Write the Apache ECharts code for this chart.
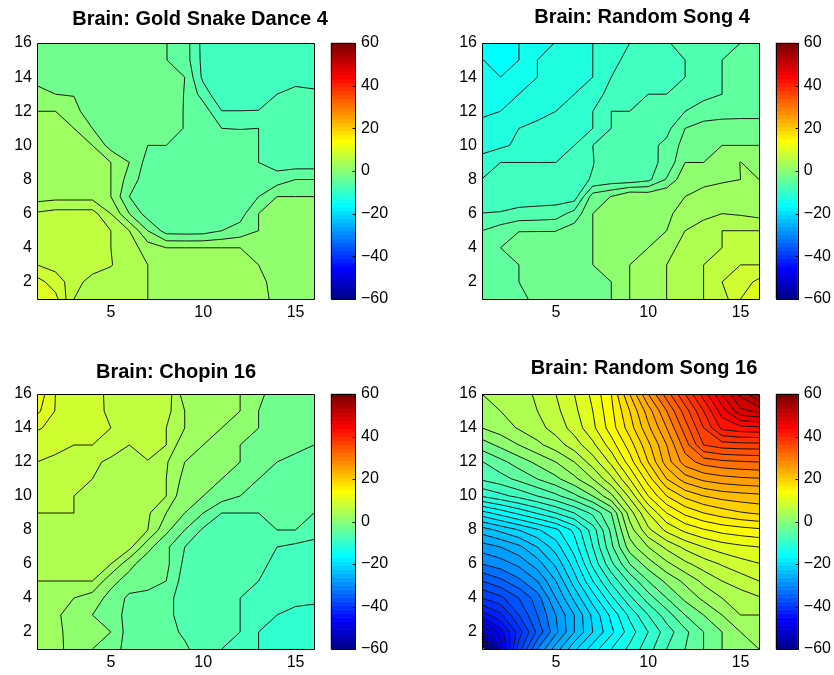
<!DOCTYPE html>
<html>
<head>
<meta charset="utf-8">
<title>Brain contour maps</title>
<script src="https://cdn.jsdelivr.net/npm/echarts/dist/echarts.min.js"></script>
<style>
  html, body { margin: 0; padding: 0; background: #fff; }
  #chart { width: 834px; height: 675px; }
</style>
</head>
<body>
<div id="chart"></div>
<script>
// grid nodes (electrode grid 16 x 16)
const gridX = [1, 2, 3, 4, 5, 6, 7, 8, 9, 10, 11, 12, 13, 14, 15, 16]
const gridY = [1, 2, 3, 4, 5, 6, 7, 8, 9, 10, 11, 12, 13, 14, 15, 16]

const titles = ['Brain: Gold Snake Dance 4', 'Brain: Random Song 4', 'Brain: Chopin 16', 'Brain: Random Song 16']

// colour axis and contour levels
const cMin = -60
const cMax = 60
const levelStep = 2
const barTicks = [-60, -40, -20, 0, 20, 40, 60]

// values, one row per y (y = 1 first), x = 1..16 in each row
const goldSnake = [
  [11.5, 10.65, 6.0, 5.2, 5.3, 4.8, 4.0, 3.4, 3.1, 3.0, 3.0, 2.9, 2.4, 1.7, 1.4, 1.3],
  [10.8, 9.0, 7.0, 5.0, 5.2, 4.8, 4.0, 3.3, 3.1, 3.0, 3.0, 2.8, 2.3, 1.6, 1.3, 1.3],
  [8.0, 7.3, 7.6, 7.2, 6.1, 5.0, 4.0, 3.2, 3.0, 3.0, 3.0, 2.8, 2.0, 1.5, 1.3, 1.3],
  [7.3, 7.5, 7.4, 7.0, 6.0, 5.0, 3.0, 2.0, 2.0, 2.0, 2.0, 2.0, 1.5, 1.2, 1.2, 1.2],
  [7.0, 7.2, 7.2, 6.9, 6.0, 4.0, 0.0, -2.86, -3.0, -2.9, -2.0, -1.2, 0.0, 1.0, 1.0, 1.0],
  [6.3, 6.8, 6.8, 6.8, 4.0, 0.0, -3.0, -3.5, -3.6, -3.6, -3.4, -2.8, 0.0, 1.0, 1.0, 1.0],
  [3.0, 3.3, 3.3, 3.3, 2.0, -2.0, -3.0, -3.5, -3.7, -3.8, -3.6, -3.0, -2.0, 0.0, 0.0, 0.0],
  [3.5, 3.4, 3.2, 2.8, 2.0, -0.86, -3.24, -3.4, -3.6, -3.7, -3.6, -3.4, -3.2, -3.0, -2.0, -2.0],
  [3.4, 3.2, 3.0, 2.6, 2.0, 0.0, -2.8, -3.0, -3.2, -3.4, -3.5, -3.6, -4.0, -5.0, -5.2, -5.2],
  [3.2, 3.0, 2.6, 2.0, -0.86, -1.5, -2.0, -2.0, -2.6, -3.0, -3.2, -3.3, -4.0, -4.5, -4.6, -4.6],
  [3.0, 2.5, 2.0, 0.0, -0.8, -1.2, -1.5, -1.8, -2.02, -3.0, -4.0, -4.05, -4.0, -4.6, -4.8, -4.8],
  [2.0, 2.0, 0.7, -1.3, -1.5, -1.6, -1.7, -1.8, -2.02, -2.9, -5.95, -5.95, -5.95, -5.3, -5.0, -5.0],
  [0.5, 0.0, -0.1, -0.8, -1.0, -1.2, -1.4, -1.7, -2.02, -4.86, -7.78, -7.5, -6.8, -6.0, -5.5, -5.6],
  [-0.5, -0.7, -0.9, -1.0, -1.1, -1.3, -1.5, -1.8, -2.0, -6.5, -7.2, -7.4, -7.4, -7.2, -6.6, -6.9],
  [-0.6, -0.8, -1.0, -1.1, -1.2, -1.3, -1.5, -1.96, -3.0, -6.6, -7.2, -7.4, -7.5, -7.5, -7.4, -7.3],
  [-0.6, -0.8, -1.0, -1.1, -1.2, -1.3, -1.5, -1.96, -3.0, -6.7, -7.2, -7.4, -7.5, -7.5, -7.4, -7.3]
]

const randomSong4 = [
  [-3.3, -3.0, -2.5, -1.5, -1.0, -0.7, -0.4, 0.0, 2.0, 3.0, 4.0, 5.0, 6.0, 7.0, 10.0, 11.5],
  [-3.3, -2.9, -2.0, -1.4, -1.0, -0.6, -0.3, 0.0, 2.0, 3.0, 4.0, 5.0, 6.0, 8.0, 9.0, 10.5],
  [-3.2, -2.8, -2.0, -1.3, -0.9, -0.5, 0.0, 1.0, 2.0, 3.0, 4.0, 5.0, 6.0, 7.0, 8.0, 8.0],
  [-3.0, -2.0, -1.2, -1.0, -0.8, -0.4, 0.0, 0.7, 1.3, 2.0, 3.2, 4.8, 5.4, 6.0, 7.0, 7.2],
  [-4.0, -3.0, -2.05, -2.05, -2.05, -1.0, 0.0, 0.6, 1.0, 1.5, 2.0, 4.0, 5.0, 6.0, 6.0, 6.0],
  [-5.95, -5.84, -5.35, -5.21, -4.96, -3.25, 0.0, 0.5, 1.0, 1.4, 1.7, 2.6, 3.4, 4.0, 3.78, 3.33],
  [-7.3, -7.2, -7.1, -7.0, -7.0, -7.0, -1.0, 0.05, 1.9, 1.5, 1.9, 2.0, 2.5, 2.8, 3.0, 3.0],
  [-7.95, -7.6, -7.4, -7.2, -6.8, -6.4, -5.9, -5.3, -5.3, -4.5, -1.8, 1.5, 1.6, 1.8, 2.0, 2.0],
  [-9.2, -8.0, -8.0, -8.0, -8.0, -7.0, -6.05, -5.3, -4.8, -4.5, -3.56, 0.0, 0.0, 0.8, 2.05, 1.0],
  [-10.8, -10.4, -9.6, -9.0, -8.5, -8.0, -6.0, -5.5, -5.0, -4.6, -3.5, -1.2, -0.5, 0.0, 0.0, 0.0],
  [-11.5, -10.8, -10.0, -9.5, -9.0, -8.5, -8.0, -6.0, -5.5, -5.0, -4.6, -2.0, -1.5, -1.3, -1.2, -1.2],
  [-12.3, -12.0, -11.2, -10.6, -10.0, -9.0, -8.0, -6.0, -6.0, -5.4, -4.8, -4.0, -2.7, -2.6, -2.6, -2.6],
  [-13.0, -12.6, -12.0, -11.3, -10.7, -10.0, -8.8, -7.4, -6.8, -6.0, -6.0, -5.4, -4.8, -4.0, -3.4, -3.0],
  [-13.5, -14.0, -13.0, -12.0, -11.3, -10.6, -10.0, -8.0, -7.2, -6.8, -6.4, -6.0, -5.0, -4.0, -3.5, -3.2],
  [-13.9, -15.0, -14.0, -12.0, -11.3, -10.6, -10.0, -8.7, -7.3, -6.9, -6.5, -6.0, -5.0, -4.0, -3.6, -3.3],
  [-15.5, -15.0, -14.0, -12.5, -11.95, -11.0, -10.0, -9.0, -8.0, -7.0, -6.1, -5.6, -5.0, -4.5, -4.0, -3.5]
]

const chopin16 = [
  [3.4, 2.4, 1.5, 0.0, -1.3, -2.6, -3.0, -3.4, -3.8, -4.6, -6.0, -7.0, -8.0, -8.8, -9.2, -9.4],
  [3.2, 2.4, 1.4, 0.8, 0.0, -3.0, -3.3, -3.6, -4.2, -4.8, -5.4, -6.0, -8.0, -8.6, -9.0, -9.2],
  [3.2, 2.4, 1.0, 0.0, -1.3, -2.5, -2.8, -3.4, -4.9, -5.2, -5.6, -6.0, -7.0, -8.0, -8.6, -8.7],
  [3.6, 3.0, 2.0, 1.0, -0.67, -2.44, -2.5, -3.0, -5.5, -5.6, -5.8, -6.0, -6.5, -7.0, -7.4, -7.6],
  [4.0, 4.0, 4.0, 4.0, 0.6, -0.8, -1.4, -2.0, -5.0, -5.2, -5.4, -5.7, -6.0, -6.6, -7.0, -7.3],
  [5.0, 4.8, 4.6, 4.3, 4.0, 0.6, -1.2, -1.5, -4.5, -4.8, -5.0, -5.2, -5.6, -6.4, -7.0, -7.2],
  [5.4, 5.3, 5.2, 5.0, 4.8, 4.6, 0.6, -1.6, -4.0, -4.5, -4.8, -5.0, -5.5, -6.0, -6.5, -6.8],
  [5.8, 5.6, 5.4, 5.2, 5.0, 4.8, 4.0, 0.5, -2.0, -4.3, -4.5, -4.6, -4.4, -4.0, -4.0, -5.0],
  [6.0, 6.0, 6.0, 5.3, 4.9, 4.6, 4.3, 2.0, 0.0, -2.0, -4.0, -4.0, -4.0, -3.4, -3.4, -4.0],
  [7.2, 6.8, 6.0, 5.6, 5.2, 4.9, 4.6, 4.0, 0.36, 0.0, -1.0, -2.0, -2.6, -3.0, -3.3, -3.5],
  [7.6, 7.2, 6.8, 6.0, 5.5, 5.2, 4.8, 4.0, 1.33, 0.7, 0.0, -1.0, -2.0, -2.6, -3.0, -3.2],
  [8.0, 7.6, 7.2, 6.4, 5.6, 5.4, 5.95, 4.2, 2.0, 1.3, 0.7, 0.0, -1.0, -2.0, -2.4, -2.6],
  [9.0, 8.5, 8.0, 8.0, 7.0, 6.0, 6.4, 6.0, 2.36, 2.0, 1.0, 0.0, -0.5, -1.0, -1.6, -2.0],
  [10.2, 9.5, 9.0, 8.6, 8.0, 7.4, 6.8, 6.0, 4.0, 3.0, 2.0, 1.0, 0.0, -0.6, -0.9, -1.2],
  [12.5, 9.9, 9.3, 8.7, 7.6, 7.3, 7.0, 6.7, 4.0, 3.2, 2.6, 2.0, 0.0, -0.7, -1.0, -1.3],
  [13.5, 10.0, 9.2, 8.6, 7.6, 7.2, 6.8, 7.3, 2.9, 2.6, 2.3, 2.0, 0.4, -0.8, -1.2, -1.5]
]

const randomSong16 = [
  [-62, -47, -37, -30, -25, -20.5, -17, -14, -11.5, -8.8, -6, -4, -2, 0, 1, 2],
  [-51, -45, -39, -33.5, -28.5, -24, -20, -16.5, -13, -10, -7, -4.5, -2, 0, 2, 3],
  [-43, -40.5, -36, -32, -28, -24, -19.5, -15.5, -11.5, -8, -5, -2, 0, 2, 4, 4],
  [-38, -36.5, -34, -31, -26, -21.5, -17, -12.5, -8.5, -5, -2, 0.5, 2.5, 4, 5, 5.8],
  [-34, -32.5, -30.5, -28, -24, -19, -14, -9.5, -5.5, -2, 0.5, 2.5, 4.5, 6, 7, 8],
  [-30, -29, -27.5, -25, -21.5, -17, -11.5, -6.5, -2, 1, 3.5, 5.5, 7, 8.2, 9.2, 9.9],
  [-27, -26, -24.5, -22, -19, -15, -10, -4.5, 1, 4, 6.5, 8.5, 10, 11, 11.6, 12],
  [-23, -21.5, -20, -18.3, -16.5, -13.5, -9, -3.5, 3, 7.5, 10.5, 12.5, 13.8, 14.7, 15.2, 15.6],
  [-16.8, -15.2, -13.5, -11.8, -10, -8, -5.5, -2, 5, 10, 14, 16.5, 18, 19, 19.8, 20.3],
  [-9.8, -8.6, -7.4, -6, -4.5, -2.5, 0, 3.5, 8.5, 14, 18, 20.5, 22, 22.8, 23.2, 23.5],
  [-5.7, -4.8, -3.5, -2, -0.5, 1.5, 4, 7.5, 12, 17, 22, 25, 26.5, 27.2, 27.6, 27.8],
  [-4.1, -2.6, -1, 0.5, 2, 4, 7, 10.5, 15, 20, 25, 29, 30.8, 31.5, 31.8, 32],
  [-1, 0.5, 2, 3.5, 5, 7, 9.5, 13, 17, 21.5, 26, 31, 36, 37, 37.2, 37.3],
  [2, 3, 4.2, 5.3, 6.8, 8.8, 11.5, 15, 19, 23.5, 28, 33, 38, 42.5, 43.3, 43.5],
  [3, 4, 5, 6, 7.5, 9.5, 12, 15.5, 20, 25, 30, 35, 40, 45, 49.5, 50.5],
  [4, 4.8, 5.5, 6.2, 8, 10, 12.5, 16, 22, 28, 33, 38, 43, 48, 52.5, 56.5]
]

const panelData = [goldSnake, randomSong4, chopin16, randomSong16]

// layout of the four panels (plot box in px)
const panels = [
  {left: 37, top: 43, height: 256, titleX: 200, titleY: 19},
  {left: 482, top: 43, height: 256, titleX: 642, titleY: 17},
  {left: 37, top: 394, height: 255, titleX: 176, titleY: 372},
  {left: 482, top: 394, height: 255, titleX: 644, titleY: 368}
]
const plotWidth = 277
const barOffset = 294
const barWidth = 24
const fontFamily = 'Liberation Sans, Arial, Helvetica, sans-serif'

const levels = []
for (let v = cMin; v <= cMax; v += levelStep) levels.push(v)

// matlab jet(64)
function jetColor (row) {
  let r = 0, g = 0, b = 0
  if (row <= 8) {
    b = 0.5 + row * 0.0625
  } else if (row <= 24) {
    g = (row - 8) * 0.0625; b = 1
  } else if (row <= 40) {
    r = (row - 24) * 0.0625; g = 1; b = 1 - (row - 24) * 0.0625
  } else if (row <= 56) {
    r = 1; g = 1 - (row - 40) * 0.0625
  } else {
    r = 1 - (row - 56) * 0.0625
  }
  return 'rgb(' + Math.round(r * 255) + ',' + Math.round(g * 255) + ',' + Math.round(b * 255) + ')'
}
function valueRow (v) {
  return Math.min(64, Math.max(1, Math.floor((v - cMin) / (cMax - cMin) * 64) + 1))
}

// cut polygon [x, y, v] to v >= lev (keepAbove) or v <= lev
function clipPoly (poly, lev, keepAbove) {
  const out = []
  const n = poly.length
  for (let i = 0; i < n; i++) {
    const cur = poly[i]
    const prev = poly[(i + n - 1) % n]
    const curIn = keepAbove ? cur[2] >= lev : cur[2] <= lev
    const prevIn = keepAbove ? prev[2] >= lev : prev[2] <= lev
    if (curIn) {
      if (!prevIn) out.push(crossPoint(prev, cur, lev))
      out.push(cur)
    } else if (prevIn) {
      out.push(crossPoint(prev, cur, lev))
    }
  }
  return out
}
function crossPoint (a, b, lev) {
  const t = (lev - a[2]) / (b[2] - a[2])
  return [a[0] + t * (b[0] - a[0]), a[1] + t * (b[1] - a[1]), lev]
}
function pt (p) {
  return p[0].toFixed(2) + ' ' + p[1].toFixed(2)
}

function contourRender (Z) {
  return function (params, api) {
    const P = []
    for (let j = 0; j < gridY.length; j++) {
      const row = []
      for (let i = 0; i < gridX.length; i++) {
        const c = api.coord([gridX[i], gridY[j]])
        row.push([c[0], c[1], Z[j][i]])
      }
      P.push(row)
    }
    const fills = {}
    let lines = ''
    for (let j = 0; j < gridY.length - 1; j++) {
      for (let i = 0; i < gridX.length - 1; i++) {
        const q = [P[j][i], P[j][i + 1], P[j + 1][i + 1], P[j + 1][i]]
        const vs = q.map(p => p[2])
        const lo = Math.min.apply(null, vs)
        const hi = Math.max.apply(null, vs)
        // filled bands
        for (let k = 0; k < levels.length - 1; k++) {
          if (levels[k + 1] < lo || levels[k] > hi) continue
          const poly = clipPoly(clipPoly(q, levels[k], true), levels[k + 1], false)
          if (poly.length < 3) continue
          fills[k] = (fills[k] || '') + 'M' + poly.map(pt).join('L') + 'Z'
        }
        // contour lines
        for (const lev of levels) {
          if (lev < lo || lev > hi) continue
          const cs = []
          for (let e = 0; e < 4; e++) {
            const a = q[e], b = q[(e + 1) % 4]
            if ((a[2] >= lev) !== (b[2] >= lev)) cs.push(crossPoint(a, b, lev))
          }
          if (cs.length === 2) {
            lines += 'M' + pt(cs[0]) + 'L' + pt(cs[1])
          } else if (cs.length === 4) {
            if (q[0][2] >= lev) {
              lines += 'M' + pt(cs[0]) + 'L' + pt(cs[1]) + 'M' + pt(cs[2]) + 'L' + pt(cs[3])
            } else {
              lines += 'M' + pt(cs[3]) + 'L' + pt(cs[0]) + 'M' + pt(cs[1]) + 'L' + pt(cs[2])
            }
          }
        }
      }
    }
    const children = []
    Object.keys(fills).forEach(k => {
      children.push({
        type: 'path',
        shape: {pathData: fills[k]},
        style: {fill: jetColor(valueRow(levels[k])), stroke: 'none'}
      })
    })
    children.push({
      type: 'path',
      shape: {pathData: lines},
      style: {fill: 'none', stroke: '#000', lineWidth: 0.9}
    })
    const p0 = P[0][0]
    const p1 = P[gridY.length - 1][gridX.length - 1]
    children.push({
      type: 'rect',
      shape: {x: Math.round(p0[0]) + 0.5, y: Math.round(p1[1]) + 0.5, width: Math.round(p1[0] - p0[0]), height: Math.round(p0[1] - p1[1])},
      style: {fill: 'none', stroke: '#000', lineWidth: 1}
    })
    return {type: 'group', children: children}
  }
}

// colour bar: 64 steps of jet, ticks inside on the right edge
function barRender (params, api) {
  const children = []
  const step = (cMax - cMin) / 64
  for (let r = 1; r <= 64; r++) {
    const a = api.coord([0, cMin + (r - 1) * step])
    const b = api.coord([1, cMin + r * step])
    children.push({
      type: 'rect',
      shape: {x: a[0], y: b[1], width: b[0] - a[0], height: a[1] - b[1]},
      style: {fill: jetColor(r), stroke: jetColor(r), lineWidth: 0.5}
    })
  }
  const lo = api.coord([0, cMin])
  const hi = api.coord([1, cMax])
  const right = Math.round(hi[0]) + 0.5
  barTicks.forEach(v => {
    const y = Math.round(api.coord([1, v])[1]) + 0.5
    children.push({
      type: 'line',
      shape: {x1: right - 3, y1: y, x2: right, y2: y},
      style: {stroke: '#000', lineWidth: 1}
    })
  })
  children.push({
    type: 'rect',
    shape: {x: Math.round(lo[0]) + 0.5, y: Math.round(hi[1]) + 0.5, width: Math.round(hi[0] - lo[0]), height: Math.round(lo[1] - hi[1])},
    style: {fill: 'none', stroke: '#000', lineWidth: 1}
  })
  return {type: 'group', children: children}
}

const grids = []
const xAxes = []
const yAxes = []
const series = []
const graphics = []

panels.forEach((p, i) => {
  grids.push({left: p.left, top: p.top, width: plotWidth, height: p.height})
  xAxes.push({
    gridIndex: i, type: 'value', min: gridX[0], max: gridX[gridX.length - 1], interval: 1,
    axisLine: {show: false}, axisTick: {show: false}, splitLine: {show: false},
    axisLabel: {formatter: v => (v % 5 === 0 ? String(v) : ''), color: '#000', fontSize: 16, fontFamily: fontFamily, margin: 6}
  })
  yAxes.push({
    gridIndex: i, type: 'value', min: gridY[0], max: gridY[gridY.length - 1], interval: 1,
    axisLine: {show: false}, axisTick: {show: false}, splitLine: {show: false},
    axisLabel: {formatter: v => (v % 2 === 0 ? String(v) : ''), color: '#000', fontSize: 16, fontFamily: fontFamily, margin: 5}
  })
  series.push({
    type: 'custom', xAxisIndex: i, yAxisIndex: i, silent: true, clip: false,
    data: [[gridX[0], gridY[0]]],
    renderItem: contourRender(panelData[i])
  })
  graphics.push({
    type: 'text', x: p.titleX, y: p.titleY, silent: true,
    style: {text: titles[i], textAlign: 'center', textVerticalAlign: 'middle', fill: '#000', font: 'bold 20px ' + fontFamily}
  })
})

panels.forEach((p, i) => {
  const gi = 4 + i
  grids.push({left: p.left + barOffset, top: p.top, width: barWidth, height: p.height})
  xAxes.push({gridIndex: gi, type: 'value', min: 0, max: 1, show: false})
  yAxes.push({
    gridIndex: gi, type: 'value', position: 'right', min: barTicks[0], max: barTicks[barTicks.length - 1], interval: 20,
    axisLine: {show: false}, splitLine: {show: false}, axisTick: {show: false},
    axisLabel: {formatter: v => String(v).replace('-', '\u2212'), color: '#000', fontSize: 16, fontFamily: fontFamily, margin: 6}
  })
  series.push({
    type: 'custom', xAxisIndex: gi, yAxisIndex: gi, silent: true, clip: false,
    data: [[0, cMin]],
    renderItem: barRender
  })
})

const myChart = echarts.init(document.getElementById('chart'), null, {renderer: 'canvas'})
myChart.setOption({
  animation: false,
  backgroundColor: '#fff',
  grid: grids,
  xAxis: xAxes,
  yAxis: yAxes,
  series: series,
  graphic: graphics
})
</script>
</body>
</html>
